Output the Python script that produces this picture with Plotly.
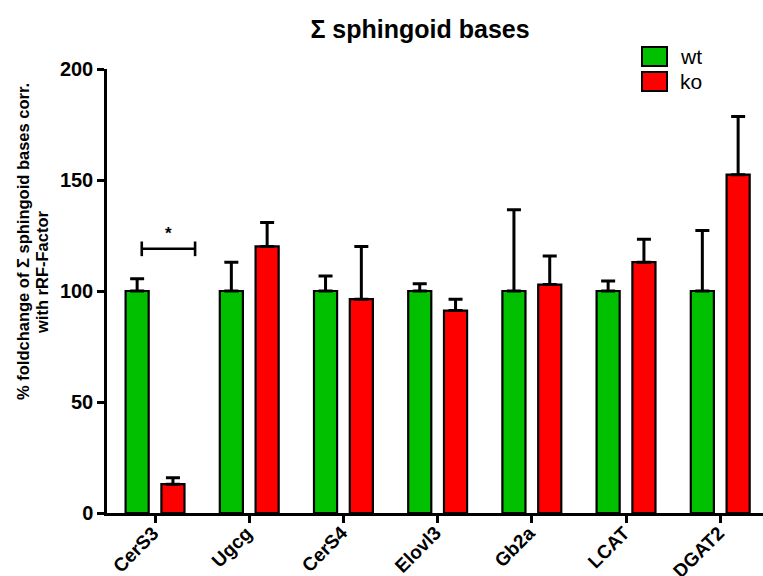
import plotly.graph_objects as go

# Gene categories and group means / upper SEM (% of wt)
genes = ["CerS3", "Ugcg", "CerS4", "Elovl3", "Gb2a", "LCAT", "DGAT2"]
wt_mean = [100, 100, 100, 100, 100, 100, 100]
wt_err = [5.5, 13.0, 6.8, 3.3, 36.6, 4.5, 27.3]
ko_mean = [13.0, 120.1, 96.3, 91.2, 102.9, 113.0, 152.4]
ko_err = [2.9, 10.7, 23.8, 5.1, 12.9, 10.3, 26.2]
y_ticks = [0, 50, 100, 150, 200]

GREEN = "#00C000"
RED = "#FF0000"
FONT = "Arial, Liberation Sans, sans-serif"

x_idx = list(range(len(genes)))

fig = go.Figure()
for name, mean, err, color in [("wt", wt_mean, wt_err, GREEN), ("ko", ko_mean, ko_err, RED)]:
    fig.add_trace(go.Bar(
        x=x_idx, y=mean, name=name,
        marker=dict(color=color, line=dict(color="black", width=2.2)),
        error_y=dict(type="data", symmetric=False, array=err,
                     arrayminus=[0] * len(err), color="black",
                     thickness=3, width=7),
        showlegend=False,
    ))

# Category labels, slanted, hanging from each tick
for i, g in zip(x_idx, genes):
    fig.add_annotation(x=i, y=0, xref="x", yref="paper", xshift=9, yshift=-8,
                       text=f"<b>{g}</b>", textangle=-45, showarrow=False,
                       xanchor="right", yanchor="top", borderpad=0,
                       font=dict(family=FONT, size=19, color="black"))

# Significance bracket between CerS3 wt and ko
br_x0, br_x1, br_y, br_h = -0.141, 0.425, 119, 3.3
line_style = dict(color="black", width=2.6)
fig.add_shape(type="line", xref="x", yref="y", x0=br_x0, x1=br_x1, y0=br_y, y1=br_y, line=line_style)
fig.add_shape(type="line", xref="x", yref="y", x0=br_x0, x1=br_x0, y0=br_y - br_h, y1=br_y + br_h, line=line_style)
fig.add_shape(type="line", xref="x", yref="y", x0=br_x1, x1=br_x1, y0=br_y - br_h, y1=br_y + br_h, line=line_style)
fig.add_annotation(x=(br_x0 + br_x1) / 2, y=br_y + 1.5, xref="x", yref="y", text="<b>*</b>",
                   showarrow=False, yanchor="bottom",
                   font=dict(family=FONT, size=17, color="black"))

# Legend drawn as boxes with labels
legend_items = [("wt", GREEN), ("ko", RED)]
box_x0, box_x1 = 642, 667
for i, (label, color) in enumerate(legend_items):
    top = 47 + i * 25
    fig.add_shape(type="rect", xref="paper", yref="paper",
                  x0=(box_x0 - 107) / 656, x1=(box_x1 - 107) / 656,
                  y0=(513 - (top + 19)) / 444, y1=(513 - top) / 444,
                  fillcolor=color, line=dict(color="black", width=2))
    fig.add_annotation(xref="paper", yref="paper", x=(678 - 107) / 656, y=(513 - (top + 9.5)) / 444,
                       text=label, showarrow=False, xanchor="left", yanchor="middle",
                       font=dict(family=FONT, size=21, color="black"))

# Y axis title, two lines
fig.add_annotation(xref="paper", yref="paper", x=0, y=(513 - 242) / 444, xshift=-84,
                   text="<b>% foldchange of Σ sphingoid bases corr.</b>", textangle=-90,
                   showarrow=False, xanchor="center", yanchor="middle",
                   font=dict(family=FONT, size=16.5, color="black"))
fig.add_annotation(xref="paper", yref="paper", x=0, y=(513 - 273) / 444, xshift=-65,
                   text="<b>with rRF-Factor</b>", textangle=-90,
                   showarrow=False, xanchor="center", yanchor="middle",
                   font=dict(family=FONT, size=16.5, color="black"))

fig.update_layout(
    width=763, height=576,
    margin=dict(l=107, r=0, t=69, b=63),
    paper_bgcolor="white", plot_bgcolor="white",
    barmode="group", bargap=0.24, bargroupgap=0.355,
    title=dict(text="<b>Σ sphingoid bases</b>", x=420 / 763, xanchor="center",
               y=1 - 29 / 576, yanchor="middle", yref="container",
               font=dict(family=FONT, size=25, color="black")),
    xaxis=dict(range=[-0.51, 6.454], tickmode="array", tickvals=x_idx,
               showticklabels=False,
               showline=True, linecolor="black", linewidth=2.5,
               ticks="outside", ticklen=7, tickwidth=2.5, tickcolor="black",
               showgrid=False, zeroline=False, automargin=False),
    yaxis=dict(range=[0, 200], tickmode="array", tickvals=y_ticks,
               showline=True, linecolor="black", linewidth=2.5,
               ticks="outside", ticklen=7, tickwidth=2.5, tickcolor="black",
               showgrid=False, zeroline=False, automargin=False,
               tickfont=dict(family=FONT, size=20, color="black", weight="bold")),
)

fig.write_html("out.html")
